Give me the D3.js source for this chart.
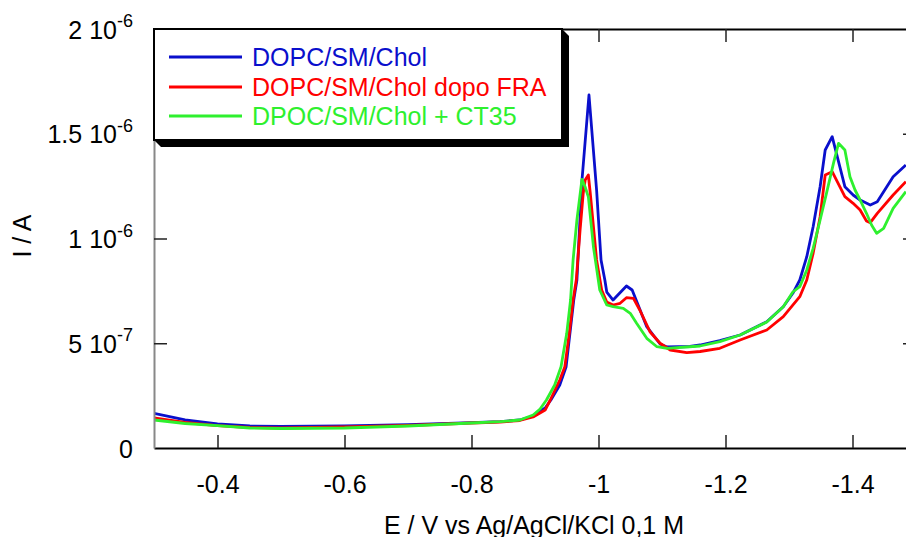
<!DOCTYPE html>
<html>
<head>
<meta charset="utf-8">
<script src="https://cdn.jsdelivr.net/npm/d3@7/dist/d3.min.js"></script>
<style>
  html, body { margin: 0; padding: 0; background: #fff; }
  svg { display: block; font-family: "Liberation Sans", Arial, sans-serif; }
</style>
</head>
<body>
<svg id="chart" width="906" height="537"></svg>
<script>
// ---- Data (E in V, I in units of 1e-7 A) ----
const seriesNames = ["DOPC/SM/Chol", "DOPC/SM/Chol dopo FRA", "DPOC/SM/Chol + CT35"];
const seriesColors = ["#0a0fcc", "#ff0000", "#2ef02e"];

const dopc = [
  [-0.300,1.656],[-0.349,1.337],[-0.400,1.146],[-0.451,1.050],[-0.500,1.026],[-0.600,1.050],
  [-0.700,1.112],[-0.800,1.208],[-0.845,1.255],[-0.876,1.337],[-0.897,1.527],[-0.916,1.909],
  [-0.925,2.291],[-0.939,3.007],[-0.949,3.881],[-0.955,5.475],[-0.961,7.064],[-0.966,8.019],
  [-0.974,12.792],[-0.985,16.850],[-0.997,12.315],[-1.004,8.974],[-1.010,8.019],[-1.013,7.446],
  [-1.023,7.064],[-1.044,7.733],[-1.053,7.542],[-1.076,5.790],[-1.097,4.964],[-1.108,4.821],
  [-1.144,4.845],[-1.160,4.916],[-1.191,5.131],[-1.223,5.394],[-1.265,6.029],[-1.291,6.745],
  [-1.306,7.384],[-1.317,8.019],[-1.328,9.131],[-1.338,10.563],[-1.349,12.473],[-1.357,14.224],
  [-1.368,14.859],[-1.376,13.905],[-1.388,12.473],[-1.401,12.076],[-1.412,11.838],[-1.428,11.599],
  [-1.439,11.757],[-1.464,12.950],[-1.484,13.508]
];

const dopcFra = [
  [-0.300,1.432],[-0.349,1.217],[-0.400,1.064],[-0.451,0.979],[-0.500,0.955],[-0.600,1.002],
  [-0.700,1.074],[-0.800,1.193],[-0.845,1.241],[-0.876,1.313],[-0.897,1.480],[-0.916,1.814],
  [-0.924,2.291],[-0.939,3.246],[-0.947,3.881],[-0.954,5.475],[-0.960,7.064],[-0.965,8.019],
  [-0.971,10.406],[-0.976,12.172],[-0.979,12.792],[-0.984,13.031],[-0.987,12.172],[-0.997,8.974],
  [-1.005,7.542],[-1.013,6.969],[-1.023,6.826],[-1.034,6.907],[-1.044,7.174],[-1.055,7.146],
  [-1.065,6.587],[-1.081,5.551],[-1.097,4.998],[-1.113,4.678],[-1.139,4.549],[-1.160,4.606],
  [-1.191,4.759],[-1.223,5.155],[-1.265,5.632],[-1.291,6.267],[-1.317,7.222],[-1.328,8.019],
  [-1.338,9.293],[-1.349,11.041],[-1.357,13.031],[-1.368,13.189],[-1.380,12.473],[-1.388,11.995],
  [-1.401,11.680],[-1.412,11.360],[-1.422,10.835],[-1.428,10.754],[-1.439,11.203],[-1.464,12.076],
  [-1.484,12.711]
];

const dpocCt35 = [
  [-0.300,1.337],[-0.349,1.169],[-0.400,1.064],[-0.451,0.955],[-0.500,0.931],[-0.600,0.955],
  [-0.700,1.050],[-0.800,1.193],[-0.845,1.255],[-0.876,1.337],[-0.897,1.575],[-0.908,1.862],
  [-0.918,2.291],[-0.931,3.007],[-0.941,3.881],[-0.950,5.475],[-0.956,7.064],[-0.960,8.974],
  [-0.966,10.883],[-0.974,12.826],[-0.979,12.460],[-0.984,11.995],[-0.992,9.609],[-1.002,7.542],
  [-1.013,6.826],[-1.023,6.745],[-1.039,6.668],[-1.050,6.430],[-1.060,5.952],[-1.076,5.236],
  [-1.092,4.835],[-1.108,4.759],[-1.160,4.869],[-1.191,5.074],[-1.223,5.394],[-1.265,6.014],
  [-1.291,6.745],[-1.306,7.446],[-1.317,7.699],[-1.328,8.496],[-1.338,9.532],[-1.349,10.883],
  [-1.359,12.157],[-1.370,13.589],[-1.378,14.544],[-1.388,14.224],[-1.396,12.950],[-1.404,12.315],
  [-1.412,11.838],[-1.422,11.203],[-1.430,10.644],[-1.438,10.248],[-1.449,10.487],[-1.464,11.442],
  [-1.484,12.234]
];

const xTicks = [-0.4, -0.6, -0.8, -1, -1.2, -1.4];
const xTickLabels = ["-0.4", "-0.6", "-0.8", "-1", "-1.2", "-1.4"];
const yTicks = [0, 5, 10, 15, 20];
const yTickMantissa = ["0", "5 10", "1 10", "1.5 10", "2 10"];
const yTickExponent = ["", "-7", "-6", "-6", "-6"];
const xTitle = "E / V vs Ag/AgCl/KCl 0,1 M";
const yTitle = "I / A";

// ---- Layout ----
const svg = d3.select("#chart");
const L = 154, R = 916, T = 29, B = 448;
const FS = 25;

const x = d3.scaleLinear().domain([-0.3, -1.5]).range([L, R]);
const y = d3.scaleLinear().domain([0, 20]).range([B, T]);

svg.append("defs").append("clipPath").attr("id", "plotclip")
  .append("rect").attr("x", L).attr("y", T).attr("width", R - L).attr("height", B - T);

// ---- Series ----
const line = d3.line().x(d => x(d[0])).y(d => y(d[1])).curve(d3.curveLinear);
const allSeries = [dopc, dopcFra, dpocCt35];
const gLines = svg.append("g").attr("clip-path", "url(#plotclip)");
allSeries.forEach((s, i) => {
  gLines.append("path").datum(s)
    .attr("d", line)
    .attr("fill", "none")
    .attr("stroke", seriesColors[i])
    .attr("stroke-width", 2.8)
    .attr("stroke-linejoin", "round");
});

// ---- Axes ----
function styleAxis(g, domainColor) {
  g.select(".domain").attr("stroke", domainColor).attr("stroke-width", 2);
  g.selectAll(".tick line").attr("stroke", "#222").attr("stroke-width", 1.5);
}

const gBottom = svg.append("g").attr("transform", `translate(0,${B})`)
  .call(d3.axisBottom(x).tickValues(xTicks).tickSizeInner(-13).tickSizeOuter(0).tickPadding(27)
    .tickFormat((d, i) => xTickLabels[i]));
styleAxis(gBottom, "#000");
gBottom.selectAll(".tick text")
  .attr("font-size", FS).attr("font-family", "Liberation Sans, Arial, sans-serif").attr("fill", "#000");

const gTop = svg.append("g").attr("transform", `translate(0,${T})`)
  .call(d3.axisTop(x).tickValues(xTicks).tickSizeInner(-13).tickSizeOuter(0).tickFormat(""));
styleAxis(gTop, "#000");

const gRight = svg.append("g").attr("transform", `translate(${R},0)`)
  .call(d3.axisRight(y).tickValues([5, 10, 15]).tickSizeInner(-13).tickSizeOuter(0).tickFormat(""));
styleAxis(gRight, "#000");

const gLeft = svg.append("g").attr("transform", `translate(${L},0)`)
  .call(d3.axisLeft(y).tickValues([5, 10, 15]).tickSizeInner(-13).tickSizeOuter(0).tickFormat(""));
styleAxis(gLeft, "#888");

// y tick labels with superscripts
yTicks.forEach((v, i) => {
  const t = svg.append("text")
    .attr("x", 133).attr("y", y(v) + 9.5)
    .attr("text-anchor", "end")
    .attr("font-size", FS).attr("fill", "#000");
  t.append("tspan").text(yTickMantissa[i]);
  if (yTickExponent[i]) {
    t.append("tspan").attr("font-size", 18).attr("dy", -11.5).text(yTickExponent[i]);
  }
});

// axis titles
svg.append("text").attr("x", (L + R) / 2 - 1).attr("y", 534)
  .attr("text-anchor", "middle").attr("font-size", FS).attr("fill", "#000").text(xTitle);
svg.append("text").attr("transform", `translate(31,236) rotate(-90)`)
  .attr("text-anchor", "middle").attr("font-size", FS).attr("fill", "#000").text(yTitle);

// ---- Legend ----
const lx0 = 154, ly0 = 29, lx1 = 562, ly1 = 140, sh = 7;
const gLeg = svg.append("g");
gLeg.append("polygon")
  .attr("points", [[lx1, ly0], [lx1 + sh, ly0 + sh], [lx1 + sh, ly1 + sh], [lx0 + sh, ly1 + sh], [lx0, ly1]].map(p => p.join(",")).join(" "))
  .attr("fill", "#000");
gLeg.append("rect").attr("x", lx0).attr("y", ly0).attr("width", lx1 - lx0).attr("height", ly1 - ly0)
  .attr("fill", "#fff").attr("stroke", "#000").attr("stroke-width", 2);
const legY = [57, 87, 116];
seriesNames.forEach((name, i) => {
  gLeg.append("line").attr("x1", 169).attr("x2", 242).attr("y1", legY[i]).attr("y2", legY[i])
    .attr("stroke", seriesColors[i]).attr("stroke-width", 3);
  gLeg.append("text").attr("x", 252).attr("y", legY[i] + 9)
    .attr("font-size", FS).attr("fill", seriesColors[i]).text(name);
});
</script>
</body>
</html>
